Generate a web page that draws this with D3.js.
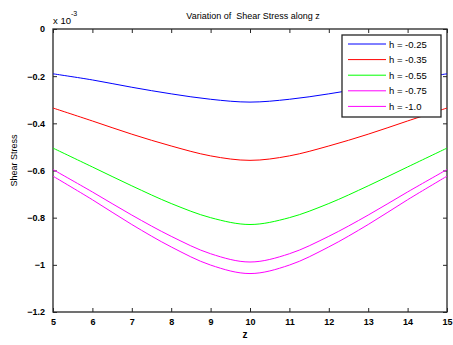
<!DOCTYPE html>
<html>
<head>
<meta charset="utf-8">
<script src="https://cdn.jsdelivr.net/npm/d3@7"></script>
<style>
  body { margin: 0; background: #fff; }
  svg text { font-family: "Liberation Sans", Arial, sans-serif; }
</style>
</head>
<body>
<div id="chart"></div>
<script>
// z positions and shear stress values (x 10^-3)
const zValues = [5, 6, 7, 8, 9, 10, 11, 12, 13, 14, 15];
const h025 = [-0.19, -0.216, -0.247, -0.275, -0.298, -0.31, -0.298, -0.275, -0.247, -0.216, -0.19];
const h035 = [-0.335, -0.39, -0.446, -0.496, -0.538, -0.557, -0.538, -0.496, -0.446, -0.39, -0.335];
const h055 = [-0.505, -0.585, -0.665, -0.74, -0.80, -0.829, -0.80, -0.74, -0.665, -0.585, -0.505];
const h075 = [-0.596, -0.691, -0.789, -0.879, -0.953, -0.988, -0.953, -0.879, -0.789, -0.691, -0.596];
const h100 = [-0.624, -0.724, -0.829, -0.924, -1.001, -1.037, -1.001, -0.924, -0.829, -0.724, -0.624];

const seriesNames = ['h = -0.25', 'h = -0.35', 'h = -0.55', 'h = -0.75', 'h = -1.0'];
const seriesColors = ['#0000ff', '#ff0000', '#00ff00', '#ff00ff', '#ff00ff'];
const xTicks = [5, 6, 7, 8, 9, 10, 11, 12, 13, 14, 15];
const yTicks = [0, -0.2, -0.4, -0.6, -0.8, -1, -1.2];

const series = [h025, h035, h055, h075, h100].map((vals, i) => ({
    name: seriesNames[i],
    color: seriesColors[i],
    values: vals.map((v, j) => ({ z: zValues[j], v: v }))
}));

const W = 453, H = 345;
const margin = { top: 29, right: 6, bottom: 33, left: 53 };
const width = W - margin.left - margin.right;
const height = H - margin.top - margin.bottom;

const svg = d3.select('#chart').append('svg')
    .attr('width', W)
    .attr('height', H);

const g = svg.append('g')
    .attr('transform', `translate(${margin.left},${margin.top})`);

const x = d3.scaleLinear().domain([5, 15]).range([0, width]);
const y = d3.scaleLinear().domain([-1.2, 0]).range([height, 0]);

const axisColor = '#262626';

// ticks pointing inward, on all four sides (matlab style)
g.append('g')
    .attr('transform', `translate(0,${height})`)
    .call(d3.axisBottom(x).tickValues(xTicks).tickSize(-4).tickPadding(7).tickFormat(d3.format('d')))
    .call(a => a.select('.domain').remove());
g.append('g')
    .call(d3.axisTop(x).tickValues(xTicks).tickSize(-4).tickFormat(''))
    .call(a => a.select('.domain').remove());
g.append('g')
    .call(d3.axisLeft(y).tickValues(yTicks).tickSize(-4).tickPadding(8).tickFormat(d => d === 0 ? '0' : d3.format('')(d)))
    .call(a => a.select('.domain').remove());
g.append('g')
    .attr('transform', `translate(${width},0)`)
    .call(d3.axisRight(y).tickValues(yTicks).tickSize(-4).tickFormat(''))
    .call(a => a.select('.domain').remove());

g.selectAll('.tick line').attr('stroke', axisColor);
g.selectAll('.tick text')
    .attr('fill', '#000')
    .style('font-size', '9px')
    .style('font-weight', 'bold');

g.append('rect')
    .attr('width', width)
    .attr('height', height)
    .attr('fill', 'none')
    .attr('stroke', axisColor)
    .attr('stroke-width', 1.3);

const line = d3.line()
    .x(d => x(d.z))
    .y(d => y(d.v))
    .curve(d3.curveCatmullRom.alpha(0.5));

series.forEach(s => {
    g.append('path')
        .datum(s.values)
        .attr('fill', 'none')
        .attr('stroke', s.color)
        .attr('stroke-width', 1)
        .attr('d', line);
});

// legend
const legend = g.append('g').attr('transform', `translate(${width - 105},6)`);
legend.append('rect')
    .attr('width', 99)
    .attr('height', 82)
    .attr('fill', '#fff')
    .attr('stroke', axisColor)
    .attr('stroke-width', 1.3);
series.forEach((s, i) => {
    const ly = 9 + i * 15.6;
    legend.append('line')
        .attr('x1', 6).attr('x2', 44)
        .attr('y1', ly).attr('y2', ly)
        .attr('stroke', s.color)
        .attr('stroke-width', 1);
    legend.append('text')
        .attr('x', 47).attr('y', ly + 3.5)
        .style('font-size', '9.5px')
        .text(s.name);
});

// title and labels
svg.append('text')
    .attr('x', margin.left + width / 2 + 3)
    .attr('y', 19)
    .attr('text-anchor', 'middle')
    .style('font-size', '9px')
    .style('white-space', 'pre')
    .text('Variation of  Shear Stress along z');

svg.append('text')
    .attr('x', margin.left + width / 2 - 5)
    .attr('y', 338)
    .attr('text-anchor', 'middle')
    .style('font-size', '10px')
    .style('font-weight', 'bold')
    .text('z');

svg.append('text')
    .attr('transform', `translate(17,${margin.top + height / 2 - 10}) rotate(-90)`)
    .attr('text-anchor', 'middle')
    .style('font-size', '9px')
    .text('Shear Stress');

// exponent label
const expo = svg.append('text')
    .attr('x', 53)
    .attr('y', 24)
    .style('font-size', '9.5px');
expo.append('tspan').text('x 10');
expo.append('tspan').attr('dy', -8).style('font-size', '7px').text('-3');
</script>
</body>
</html>
